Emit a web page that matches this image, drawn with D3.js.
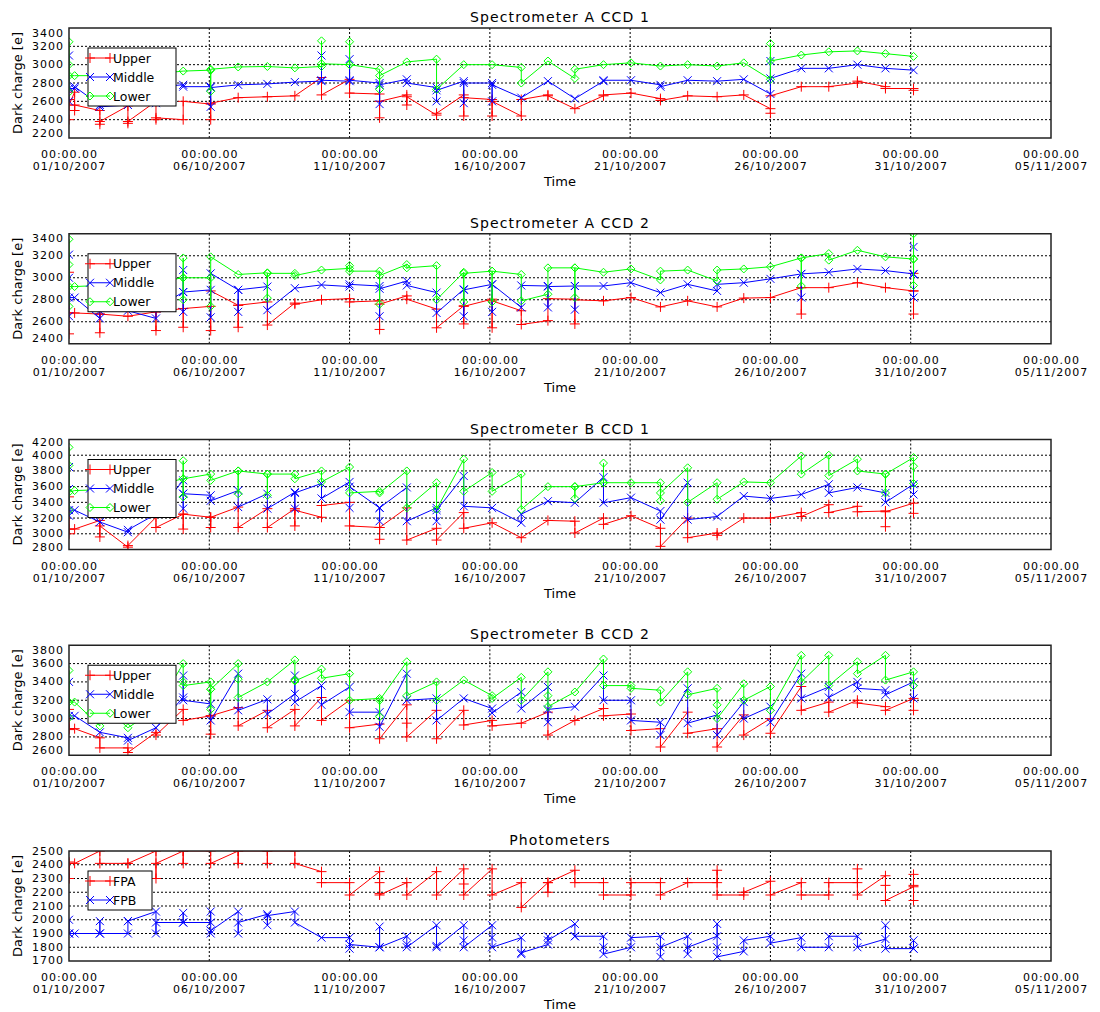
<!DOCTYPE html>
<html lang="en">
<head>
<meta charset="UTF-8">
<title>Dark charge</title>
<script src="https://cdn.jsdelivr.net/npm/d3@7"></script>
<style>
  body { margin: 0; background: #fff; }
  svg text { font-family: "DejaVu Sans", sans-serif; fill: #000; }
</style>
</head>
<body>
<script>
// measurement times, in days after 01/10/2007 00:00
const days = [0, 0.2, 1.1, 2.1, 3.1, 4.07, 5.05, 6.03, 7.07, 8.05, 9.0, 10.0, 11.07, 12.04, 13.1, 14.07,
    15.08, 16.12, 17.07, 18.03, 19.05, 20.03, 21.08, 22.05, 23.1, 24.05, 25.0, 26.1, 27.08, 28.1, 29.1, 30.1];

const dateTicks = ['01/10/2007', '06/10/2007', '11/10/2007', '16/10/2007', '21/10/2007', '26/10/2007', '31/10/2007', '05/11/2007'];

const titles = ['Spectrometer A CCD 1', 'Spectrometer A CCD 2', 'Spectrometer B CCD 1', 'Spectrometer B CCD 2', 'Photometers'];

const ticksA1 = [2200, 2400, 2600, 2800, 3000, 3200, 3400];
const ticksA2 = [2400, 2600, 2800, 3000, 3200, 3400];
const ticksB1 = [2800, 3000, 3200, 3400, 3600, 3800, 4000, 4200];
const ticksB2 = [2600, 2800, 3000, 3200, 3400, 3600, 3800];
const ticksPhot = [1700, 1800, 1900, 2000, 2100, 2200, 2300, 2400, 2500];

// each entry = readings taken at days[i] (the line runs through them in order)
const a1Upper = [[2400, 2620, 2560], [2700, 2500, 2560], [2500, 2350, 2380], [2550, 2360, 2380], [2600, 2400, 2420],
    [2400, 2600], [2570, 2400, 2580], [2640], [2650], [2660],
    [2860, 2670], [2840, 2690], [2680, 2420, 2600], [2670, 2560, 2650], [2450, 2470],
    [2670, 2440, 2640], [2620, 2440, 2600], [2440, 2620], [2670, 2660], [2520],
    [2660, 2670], [2690], [2630, 2610], [2660], [2650],
    [2670], [2520, 2470, 2660], [2760], [2760], [2800, 2820],
    [2760, 2740], [2740, 2720]];
const a1Middle = [[2600, 3100, 2740], [2740, 2760], [2560, 2540], [2560], [2580, 2760],
    [2780, 2760], [2760, 2540, 2750], [2780], [2790], [2810],
    [2820, 3100, 2830], [2820, 3060, 2830], [2800, 2570, 2780], [2840, 2800], [2750, 2600, 2720],
    [2820, 2580, 2800], [2800, 2600, 2780], [2640], [2820], [2630],
    [2820, 2830], [2830], [2780, 2760], [2830], [2820],
    [2840], [2680, 3040, 2850], [2960], [2960], [3000],
    [2960], [2940]];
const a1Lower = [[2700, 3250, 3000, 2880], [2880], [2880], [2880], [2900],
    [2930], [2940, 2710, 2950], [2975], [2980], [2965],
    [2980, 3260, 3010], [3000, 3250, 3000], [2950, 2730, 2880], [3030], [3060, 2730],
    [3000], [3000], [2970, 2800], [3040], [2850, 2950],
    [3000], [3020], [2985], [3000], [2985],
    [3020], [2840, 3230, 3040], [3105], [3140], [3150],
    [3120], [3090]];

const a2Upper = [[2490, 3050, 2680], [2680], [2670, 2500, 2670], [2650], [2690, 2520, 2690],
    [2720, 2550, 2720], [2740, 2520, 2880], [2750, 2550, 2750], [2780, 2570], [2770, 2760],
    [2800], [2810, 2780], [2790, 2530, 2760], [2835, 2805], [2715, 2545],
    [2745, 2580, 2740], [2805, 2545, 2790], [2700, 2575], [2610, 2810], [2805, 2580, 2800],
    [2790], [2820], [2735], [2790], [2735],
    [2815], [2820], [2910, 2670, 2910], [2910], [2955],
    [2910], [2880, 2670, 3040, 2880]];
const a2Middle = [[2650, 3210, 3000, 2820], [2820], [2630, 2700], [2700], [2630, 2720],
    [2870, 2690, 3070, 2870], [2890, 2640, 3040], [2890, 2690, 2890], [2920, 2705], [2905],
    [2935], [2920, 2940], [2925, 2650, 2900], [2970, 2930], [2865, 2680],
    [2895, 2650, 2890], [2940, 2690, 2940], [2730, 2930], [2925, 2730, 2920], [2925, 2710, 2925],
    [2925], [2955], [2865], [2940], [2880, 2940],
    [2955], [2990], [3035, 2820, 3035], [3050], [3080],
    [3065], [3035, 3280, 2820, 3030]];
const a2Lower = [[2740, 3350, 3120, 2920], [2920], [2930], [2940], [2960],
    [3000, 3180, 2800, 3000], [3000, 2740, 3190], [3030], [3045, 2815, 3040], [3040, 3020],
    [3070], [3085, 3110, 3060], [3060, 2760, 3020], [3120, 3090], [3110, 2800],
    [3050, 2780, 3040], [3060, 2780, 3060], [3030, 2790], [2850, 3090], [3090, 2820, 3090],
    [3050], [3080], [2980, 3060], [3070], [2970, 3070],
    [3080], [3100], [3180, 2925, 3180], [3220, 3160], [3250],
    [3190], [3170, 3400, 2930, 3170]];

const b1Upper = [[3000, 3470, 3060], [3060], [3170, 2960, 3100], [2830, 2850], [3210, 3080],
    [3250, 3060, 3250], [3210, 3080, 3210], [3340, 3080], [3320, 3080], [3320, 3100, 3300],
    [3210, 3360], [3400, 3100], [3080, 2930, 3080], [3330, 2920], [3070, 2920],
    [3270, 3070], [3140], [2950], [3170], [3160, 3010],
    [3200, 3120], [3230], [3070, 2840], [3200, 2950], [3010, 2980],
    [3200], [3200], [3270, 3220], [3370, 3270], [3350, 3280],
    [3290, 3090, 3280], [3390, 3260]];
const b1Middle = [[3230, 3850, 3570, 3300], [3300], [3150], [3020, 3050], [3250],
    [3680, 3510, 3320, 3510], [3490, 3420], [3550, 3340], [3510, 3320], [3530, 3320, 3520],
    [3640, 3450], [3660, 3330, 3600], [3330, 3160, 3330], [3590, 3160], [3330, 3160, 3300],
    [3735, 3350], [3330], [3140, 3250], [3415], [3395],
    [3720, 3395], [3460], [3290, 3180], [3650, 3180], [3220],
    [3480], [3450], [3500], [3630, 3520], [3590],
    [3520, 3400], [3630, 3500]];
const b1Lower = [[3300, 4100, 3870, 3530], [3550], [3560], [3580], [3620],
    [3700, 3930, 3470, 3700], [3760, 3680], [3800, 3510, 3800], [3760, 3490, 3760], [3760, 3700],
    [3800, 3660], [3850, 3520], [3540, 3520], [3800, 3330], [3650, 3310],
    [3950, 3540], [3780, 3540], [3760, 3310], [3600], [3600, 3450, 3600],
    [3650, 3900, 3650], [3650], [3650, 3420, 3520], [3840, 3400], [3650, 3440],
    [3660], [3650], [3990, 3760], [4000, 3740], [3950, 3800],
    [3760, 3520, 3760], [3970, 3860, 3640]];

const b2Upper = [[2880, 3100, 2890], [2890], [2790, 2680], [2680, 2630], [2850, 2820],
    [3100, 2980], [3030, 2830, 3030], [3120, 2920], [3090, 2900], [3100, 2920],
    [3230, 2980], [3200, 2900], [2940, 2780], [3150, 2950, 2800], [3090, 2780],
    [3090, 2930], [2980, 2920], [2950], [3070, 2820], [2980],
    [3110, 3030], [3050, 2870], [2890, 2690], [3070, 2840], [2890, 2690],
    [3040, 2820], [3000, 2840], [3350, 3090], [3180, 3070], [3200, 3170],
    [3130, 3090], [3220, 3090]];
const b2Middle = [[3400, 3030], [3030], [2850], [2790, 2760], [2900],
    [3230, 3470, 3200], [3160, 2980], [3490, 3090], [3210, 3050], [3270, 3470, 3180],
    [3360, 3150], [3345, 3070], [3070, 2910], [3490, 3200], [3220, 2980],
    [3220], [3110, 3060], [3290, 3110], [3345, 2960, 3100], [3130],
    [3470, 3200], [3200, 2980], [2960, 2820], [3330, 2950], [3040, 2820],
    [3180, 3000], [3130, 2960], [3490, 3220], [3345, 3230], [3400, 3330],
    [3310, 3260], [3400, 3220]];
const b2Lower = [[3010, 3525, 3180], [3180], [2920, 3180], [2900], [3100],
    [3600, 3400, 3360], [3400, 3320, 3100, 3320], [3600, 3430, 3230], [3400], [3640, 3420, 3410],
    [3540, 3440], [3490, 3200], [3220, 3020, 3200], [3620, 3250], [3400, 3200],
    [3420], [3250, 3220], [3450, 3200], [3510, 3250, 3130], [3290],
    [3650, 3360], [3360, 3330], [3310, 3180], [3510, 3260], [3330, 3150, 3000],
    [3380, 3200], [3350, 3090], [3690, 3400], [3690, 3360], [3620, 3490],
    [3690, 3420], [3510, 3360]];

const fpa = [[2300, 2420, 2300, 2410], [2410], [2500, 2410], [2410, 2410], [2500, 2300, 2410],
    [2500, 2410, 2500], [2500, 2410], [2500, 2410, 2500], [2500, 2410, 2500], [2500, 2410],
    [2350, 2270], [2270, 2180], [2350, 2190, 2270, 2180], [2270, 2180], [2350, 2180],
    [2370, 2260, 2180], [2370, 2180], [2270, 2090], [2270, 2200, 2270], [2360, 2270],
    [2270, 2180], [2180, 2270], [2270, 2180], [2270], [2270, 2360, 2180],
    [2180, 2200], [2280, 2180], [2270, 2180], [2180, 2270], [2270, 2370, 2180],
    [2320, 2250, 2140], [2240, 2330, 2140, 2250]];
const fpb = [[1900, 2000, 1900], [1900], [1900, 1990, 1900], [1900, 1990, 1990], [2060, 1900, 1980],
    [1980, 2050, 1980], [1980, 2060, 1900, 1920], [2060, 1900, 1980], [2040, 1960, 2030], [2060, 1980],
    [1870], [1870, 1790, 1820], [1800, 1950, 1800], [1880, 1820, 1800], [1960, 1810, 1800],
    [1960, 1850, 1800], [1960, 1870, 1800], [1870, 1750, 1760], [1820, 1880, 1850], [1970, 1880, 1880],
    [1880, 1800, 1750], [1800, 1870], [1880, 1730, 1800], [1880, 1750, 1800], [1880, 1970, 1800, 1730],
    [1770, 1850], [1880, 1830], [1870, 1800], [1800, 1880], [1880, 1800],
    [1860, 1960, 1790], [1790, 1850, 1790]];

const RED = '#ff0000', BLUE = '#0000ff', GREEN = '#00ff00';

const ccd = (u, m, l) => [
    { name: 'Upper', color: RED, marker: 'plus', data: u },
    { name: 'Middle', color: BLUE, marker: 'cross', data: m },
    { name: 'Lower', color: GREEN, marker: 'diamond', data: l }
];
const panels = [
    { ticks: ticksA1, series: ccd(a1Upper, a1Middle, a1Lower), legendW: 88 },
    { ticks: ticksA2, series: ccd(a2Upper, a2Middle, a2Lower), legendW: 88 },
    { ticks: ticksB1, series: ccd(b1Upper, b1Middle, b1Lower), legendW: 88 },
    { ticks: ticksB2, series: ccd(b2Upper, b2Middle, b2Lower), legendW: 88 },
    { ticks: ticksPhot, legendW: 64, series: [
        { name: 'FPA', color: RED, marker: 'plus', data: fpa },
        { name: 'FPB', color: BLUE, marker: 'cross', data: fpb }
    ] }
];

const width = 1100, height = 1012,
    left = 69, right = 1051,
    plotH = 110, firstTop = 28, step = 205.75;

const markers = {
    plus: 'M-5,0H5M0,-5V5',
    cross: 'M-4,-4L4,4M-4,4L4,-4',
    diamond: 'M0,-4L4,0L0,4L-4,0Z'
};

const svg = d3.select('body').append('svg').attr('width', width).attr('height', height)
    .style('background', '#fff');

const parseDate = d3.utcParse('%d/%m/%Y');
const tickDates = dateTicks.map(parseDate);
const t0 = tickDates[0];
const x = d3.scaleUtc().domain([t0, tickDates[tickDates.length - 1]]).range([left, right]);
const when = d => new Date(t0.getTime() + d * 864e5);
const fmtTime = d3.utcFormat('%H:%M.%S'), fmtDate = d3.utcFormat('%d/%m/%Y');

panels.forEach((p, i) => {
    const top = firstTop + i * step, bottom = top + plotH;
    const y = d3.scaleLinear().domain(d3.extent(p.ticks)).range([bottom, top]);
    const g = svg.append('g');

    svg.append('clipPath').attr('id', 'clip' + i)
        .append('rect').attr('x', left).attr('y', top).attr('width', right - left).attr('height', plotH);

    // dotted grid
    g.append('g').selectAll('line').data(p.ticks.slice(1, -1)).join('line')
        .attr('x1', left).attr('x2', right)
        .attr('y1', d => y(d)).attr('y2', d => y(d));
    g.append('g').selectAll('line').data(tickDates.slice(1, -1)).join('line')
        .attr('x1', d => x(d)).attr('x2', d => x(d))
        .attr('y1', top).attr('y2', bottom);
    g.selectAll('line').attr('stroke', '#000').attr('stroke-dasharray', '2,2').attr('stroke-width', 1);

    // series
    const dg = g.append('g').attr('clip-path', `url(#clip${i})`);
    p.series.forEach(s => {
        const pts = [];
        s.data.forEach((cl, k) => cl.forEach(v => pts.push([when(days[k]), v])));
        dg.append('path').datum(pts)
            .attr('d', d3.line().x(d => x(d[0])).y(d => y(d[1])))
            .attr('fill', 'none').attr('stroke', s.color).attr('stroke-width', 1);
        dg.append('g').selectAll('path').data(pts).join('path')
            .attr('transform', d => `translate(${x(d[0])},${y(d[1])})`)
            .attr('d', markers[s.marker])
            .attr('fill', 'none').attr('stroke', s.color).attr('stroke-width', 1);
    });

    // frame
    g.append('rect').attr('x', left).attr('y', top).attr('width', right - left).attr('height', plotH)
        .attr('fill', 'none').attr('stroke', '#222').attr('stroke-width', 1.5);

    // y axis; end labels pulled inside the frame as far as the spacing allows
    const gap = y(p.ticks[0]) - y(p.ticks[1]);
    const nudge = Math.max(0, Math.min(5, gap - 13.2));
    const ya = g.append('g').attr('transform', `translate(${left},0)`)
        .call(d3.axisLeft(y).tickValues(p.ticks).tickSize(0).tickPadding(5).tickFormat(d3.format('d')));
    ya.select('.domain').remove();
    ya.attr('font-family', null).attr('font-size', null);
    ya.selectAll('.tick')
        .attr('transform', d => `translate(0,${Math.min(bottom - nudge, Math.max(top + nudge, y(d)))})`);
    ya.selectAll('text').style('font-size', '11px').style('letter-spacing', '1px');

    // x axis, two-line labels
    const xa = g.append('g').attr('transform', `translate(0,${bottom})`)
        .call(d3.axisBottom(x).tickValues(tickDates).tickSize(0));
    xa.select('.domain').remove();
    xa.attr('font-family', null).attr('font-size', null);
    xa.selectAll('.tick text').text(null).attr('dy', null).attr('y', null)
        .style('font-size', '11px').style('letter-spacing', '1px')
        .call(t => {
            t.append('tspan').attr('x', 0).attr('y', 20).text(d => fmtTime(d));
            t.append('tspan').attr('x', 0).attr('y', 32).text(d => fmtDate(d));
        });

    g.append('text').attr('x', (left + right) / 2).attr('y', bottom + 48)
        .attr('text-anchor', 'middle').style('font-size', '13px').text('Time');

    g.append('text').attr('x', (left + right) / 2).attr('y', top - 6)
        .attr('text-anchor', 'middle').style('font-size', '14px').style('letter-spacing', '1.1px')
        .text(titles[i]);

    g.append('text').attr('transform', `translate(22,${(top + bottom) / 2}) rotate(-90)`)
        .attr('text-anchor', 'middle').style('font-size', '13px').text('Dark charge [e]');

    // legend
    const lx = left + 19, ly = top + 20, n = p.series.length;
    const lg = g.append('g');
    lg.append('rect').attr('x', lx).attr('y', ly).attr('width', p.legendW).attr('height', 20 + (n - 1) * 19)
        .attr('fill', '#fff').attr('stroke', '#000').attr('stroke-width', 1);
    p.series.forEach((s, j) => {
        const ry = ly + 10 + j * 19;
        lg.append('line').attr('x1', lx + 2).attr('x2', lx + 22).attr('y1', ry).attr('y2', ry)
            .attr('stroke', s.color);
        [lx + 2, lx + 22].forEach(mx => lg.append('path')
            .attr('transform', `translate(${mx},${ry})`).attr('d', markers[s.marker])
            .attr('fill', 'none').attr('stroke', s.color));
        lg.append('text').attr('x', lx + 25).attr('y', ry).attr('dy', '0.36em')
            .style('font-size', '12.5px').text(s.name);
    });
});
</script>
</body>
</html>
